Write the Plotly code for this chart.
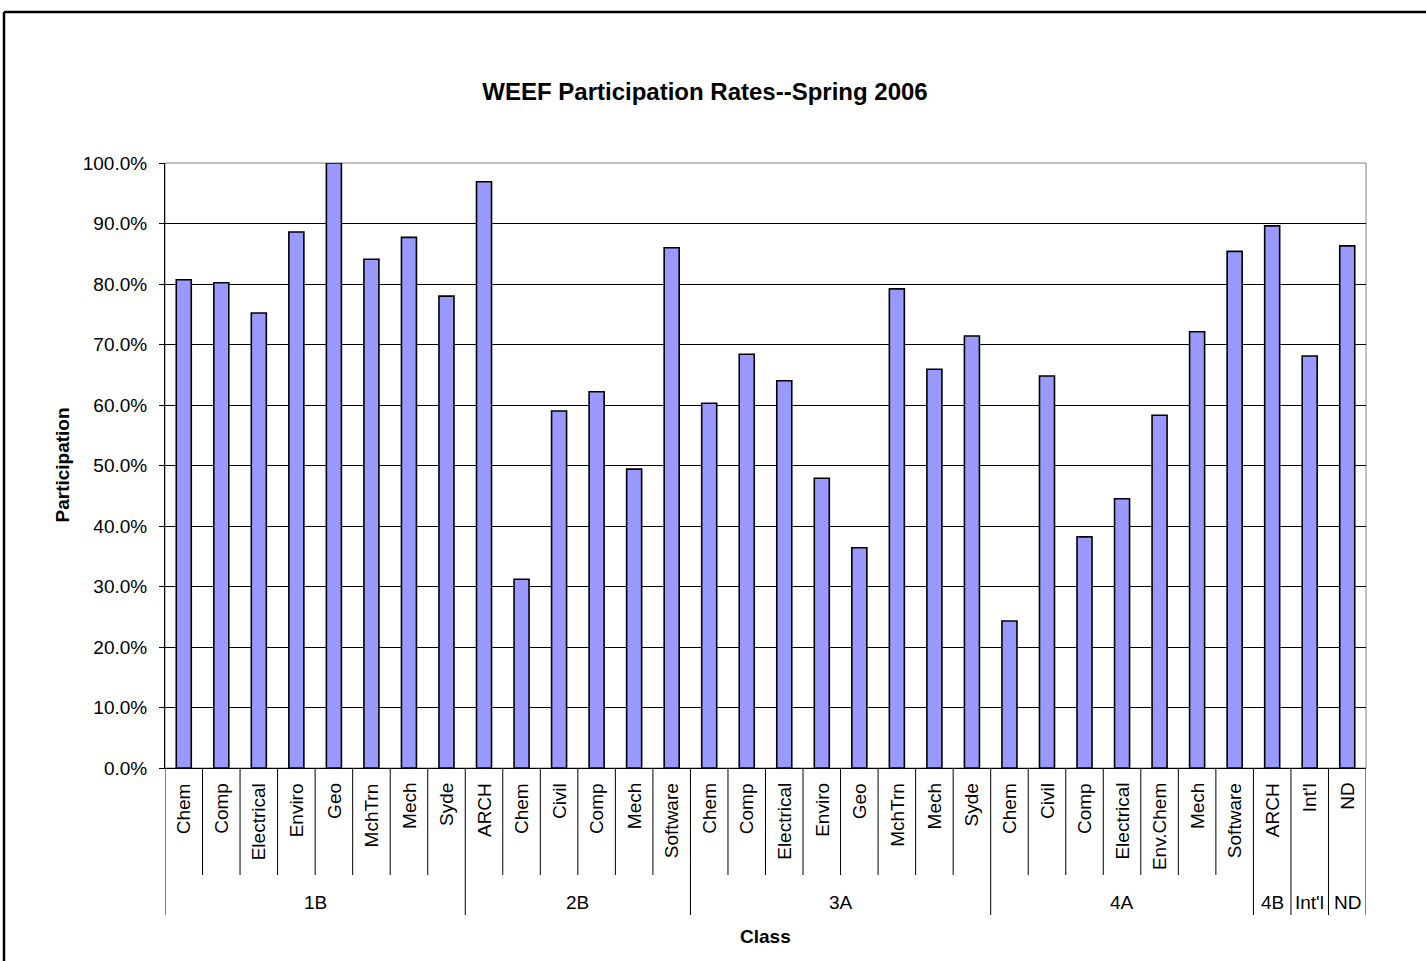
import itertools
import plotly.graph_objects as go

# ---------------- data ----------------
groups = ["1B"] * 8 + ["2B"] * 6 + ["3A"] * 8 + ["4A"] * 7 + ["4B", "Int'l", "ND"]
programs = [
    "Chem", "Comp", "Electrical", "Enviro", "Geo", "MchTrn", "Mech", "Syde",
    "ARCH", "Chem", "Civil", "Comp", "Mech", "Software",
    "Chem", "Comp", "Electrical", "Enviro", "Geo", "MchTrn", "Mech", "Syde",
    "Chem", "Civil", "Comp", "Electrical", "Env.Chem", "Mech", "Software",
    "ARCH", "Int'l", "ND",
]
participation = [
    0.807, 0.802, 0.752, 0.886, 1.000, 0.841, 0.877, 0.780,
    0.969, 0.312, 0.590, 0.622, 0.494, 0.860,
    0.603, 0.684, 0.640, 0.479, 0.364, 0.792, 0.659, 0.714,
    0.243, 0.648, 0.382, 0.445, 0.583, 0.721, 0.854,
    0.896, 0.681, 0.863,
]
y_ticks = [i / 10 for i in range(11)]

# ---------------- layout constants ----------------
W, H = 1426, 961
L, R, T, B = 165, 60, 163, 193
PW, PH = W - L - R, H - T - B
FONT = "Arial, 'Liberation Sans', sans-serif"

def px_to_py(ypx):
    return (H - B - ypx) / PH

def px_to_px_paper(xpx):
    return (xpx - L) / PW

idx = list(range(len(programs)))

fig = go.Figure()
fig.add_trace(go.Bar(
    x=idx, y=participation, width=0.4,
    marker=dict(color="#9999FF", line=dict(color="#000000", width=1.6)),
    hovertext=[f"{g} {p}" for g, p in zip(groups, programs)],
))

shapes = []
annotations = []

# plot area border (gray)
shapes.append(dict(type="rect", xref="paper", yref="paper", x0=0, x1=1, y0=0, y1=1,
                   line=dict(color="#808080", width=1), layer="below"))

# group boundaries
bounds = []
start = 0
for g, items in itertools.groupby(groups):
    n = len(list(items))
    bounds.append((g, start, start + n))
    start += n
group_edges = {b[1] for b in bounds} | {bounds[-1][2]}

inner_bottom = px_to_py(875)
group_bottom = px_to_py(915)
for k in range(len(programs) + 1):
    xb = k - 0.5
    yb = group_bottom if k in group_edges else inner_bottom
    shapes.append(dict(type="line", xref="x", yref="paper", x0=xb, x1=xb, y0=0, y1=yb,
                       line=dict(color="#000000", width=1)))

# inner labels
for i, p in zip(idx, programs):
    annotations.append(dict(x=i, xref="x", y=0, yref="paper", text=p, showarrow=False,
                            textangle=-90, yanchor="top", xanchor="center", yshift=-13,
                            font=dict(family=FONT, size=19, color="#000")))
# group labels
for g, s, e in bounds:
    annotations.append(dict(x=(s + e - 1) / 2, xref="x", y=px_to_py(902), yref="paper",
                            text=g, showarrow=False, yanchor="middle", xanchor="center",
                            font=dict(family=FONT, size=19, color="#000")))

# axis titles
annotations.append(dict(x=px_to_px_paper(62), xref="paper", y=0.5, yref="paper",
                        text="<b>Participation</b>", showarrow=False, textangle=-90,
                        xanchor="center", yanchor="middle",
                        font=dict(family=FONT, size=19, color="#000")))
annotations.append(dict(x=0.5, xref="paper", y=px_to_py(936), yref="paper",
                        text="<b>Class</b>", showarrow=False,
                        xanchor="center", yanchor="middle",
                        font=dict(family=FONT, size=19, color="#000")))

# outer frame (left and top edges of the chart box)
fx = px_to_px_paper(4)
fy_top = px_to_py(12)
shapes.append(dict(type="line", xref="paper", yref="paper", x0=fx, x1=fx,
                   y0=px_to_py(H + 5), y1=fy_top, line=dict(color="#000", width=2.5)))
shapes.append(dict(type="line", xref="paper", yref="paper", x0=fx, x1=px_to_px_paper(W + 5),
                   y0=fy_top, y1=fy_top, line=dict(color="#000", width=2.5)))

fig.update_layout(
    width=W, height=H,
    margin=dict(l=L, r=R, t=T, b=B, pad=0),
    paper_bgcolor="white", plot_bgcolor="white",
    showlegend=False,
    title=dict(text="<b>WEEF Participation Rates--Spring 2006</b>",
               xref="container", yref="container",
               x=705 / W, y=1 - 92 / H, xanchor="center", yanchor="middle",
               font=dict(family=FONT, size=24, color="#000")),
    font=dict(family=FONT, color="#000"),
    xaxis=dict(range=[-0.5, len(programs) - 0.5], showticklabels=False, showgrid=False,
               zeroline=False, showline=True, linecolor="#000", linewidth=1, ticks=""),
    yaxis=dict(range=[0, 1], tickvals=y_ticks, tickformat=".1%", showgrid=True,
               gridcolor="#000", gridwidth=1, zeroline=False, showline=True,
               linecolor="#000", linewidth=1, ticks="outside", ticklen=5,
               tickcolor="#000", tickfont=dict(family=FONT, size=19, color="#000"),
               ticklabelstandoff=8),
    shapes=shapes,
    annotations=annotations,
)

fig.write_html(
    "out.html",
    config={"displayModeBar": False},
    post_script="document.body.style.margin='0px';document.body.style.overflow='hidden';",
)
